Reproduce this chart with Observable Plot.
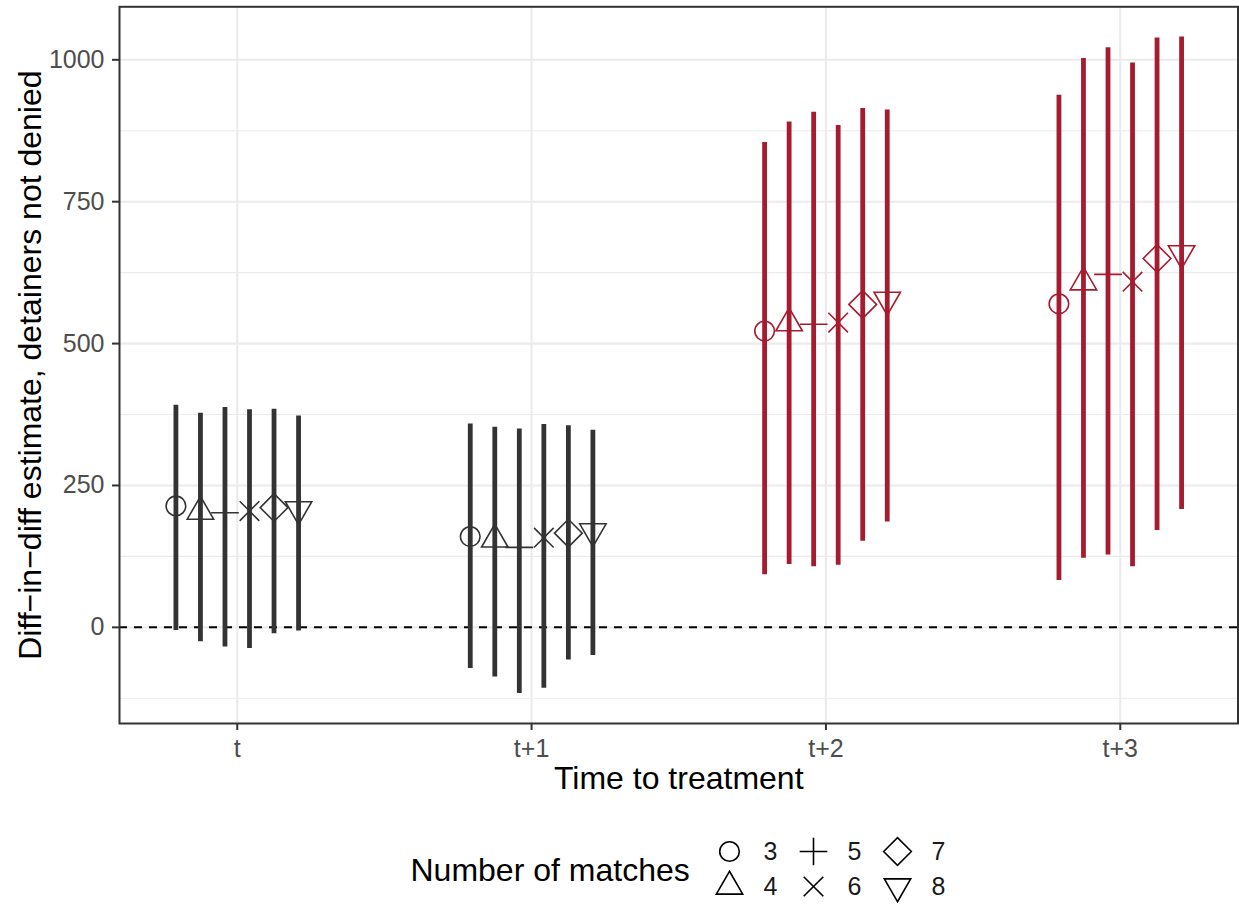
<!DOCTYPE html>
<html>
<head>
<meta charset="utf-8">
<script src="https://cdn.jsdelivr.net/npm/d3@7"></script>
<script src="https://cdn.jsdelivr.net/npm/@observablehq/plot@0.6"></script>
<style>
  html, body { margin: 0; padding: 0; background: #ffffff; }
  #chart { width: 1239px; height: 909px; overflow: hidden; }
  svg { display: block; }
</style>
</head>
<body>
<div id="chart"></div>
<script>
// ---------- data ----------
const timeLabels = ["t", "t+1", "t+2", "t+3"];
const matches = [3, 4, 5, 6, 7, 8];

const est_t  = [214, 204, 202, 205, 211, 208];
const lo_t   = [-1, -21, -30, -33, -7, -2];
const hi_t   = [387, 373, 383, 379, 380, 368];

const est_t1 = [160, 155, 141, 158, 166, 169];
const lo_t1  = [-68, -83, -112, -103, -53, -45];
const hi_t1  = [354, 348, 345, 353, 351, 343];

const est_t2 = [522, 536, 534, 537, 569, 577];
const lo_t2  = [97, 115, 111, 114, 156, 190];
const hi_t2  = [850, 886, 903, 880, 910, 907];

const est_t3 = [570, 608, 622, 609, 650, 659];
const lo_t3  = [87, 126, 132, 111, 175, 212];
const hi_t3  = [933, 998, 1017, 990, 1034, 1036];

const yMajorTicks = [0, 250, 500, 750, 1000];
const yMinorTicks = [-125, 125, 375, 625, 875];

const xTitle = "Time to treatment";
const yTitle = "Diff\u2212in\u2212diff estimate, detainers not denied";
const legendTitle = "Number of matches";

// ---------- build table ----------
const estimates = [est_t, est_t1, est_t2, est_t3];
const lowers = [lo_t, lo_t1, lo_t2, lo_t3];
const uppers = [hi_t, hi_t1, hi_t2, hi_t3];
const dodgeWidth = 0.5;
const rows = [];
timeLabels.forEach((tl, ti) => {
  matches.forEach((m, mi) => {
    const lo = lowers[ti][mi];
    rows.push({
      time: tl,
      pos: ti + 1 + (mi - (matches.length - 1) / 2) * (dodgeWidth / matches.length),
      match: m,
      est: estimates[ti][mi],
      lo,
      hi: uppers[ti][mi],
      sig: lo > 0 ? "sig" : "ns"
    });
  });
});

// ---------- R-like point shapes ----------
const TRC0 = Math.sqrt(4 * Math.PI / (3 * Math.sqrt(3)));
const TRC1 = TRC0 * Math.sqrt(3) / 2;
const TRC2 = TRC0 / 2;
function rShape(kind) {
  return {
    draw(ctx, size) {
      const R = Math.sqrt(size / Math.PI);
      if (kind === 1) {
        ctx.moveTo(R, 0); ctx.arc(0, 0, R, 0, 2 * Math.PI); ctx.closePath();
      } else if (kind === 2) {
        ctx.moveTo(0, -TRC0 * R); ctx.lineTo(TRC1 * R, TRC2 * R); ctx.lineTo(-TRC1 * R, TRC2 * R); ctx.closePath();
      } else if (kind === 3) {
        const xc = Math.SQRT2 * R;
        ctx.moveTo(-xc, 0); ctx.lineTo(xc, 0); ctx.moveTo(0, -xc); ctx.lineTo(0, xc);
      } else if (kind === 4) {
        const xc = R;
        ctx.moveTo(-xc, -xc); ctx.lineTo(xc, xc); ctx.moveTo(-xc, xc); ctx.lineTo(xc, -xc);
      } else if (kind === 5) {
        const xc = Math.SQRT2 * R;
        ctx.moveTo(-xc, 0); ctx.lineTo(0, -xc); ctx.lineTo(xc, 0); ctx.lineTo(0, xc); ctx.closePath();
      } else if (kind === 6) {
        ctx.moveTo(0, TRC0 * R); ctx.lineTo(TRC1 * R, -TRC2 * R); ctx.lineTo(-TRC1 * R, -TRC2 * R); ctx.closePath();
      }
    }
  };
}
const shapeKinds = [1, 2, 3, 4, 5, 6];
const shapes = shapeKinds.map(rShape);

const DARK = "#333333";
const RED = "#A51C30";
const FONT = "'Liberation Sans', Arial, Helvetica, sans-serif";
const PT_R = 9.8;

// ---------- main plot ----------
const W = 1239, H = 820;
const dotMarks = matches.map((m, i) =>
  Plot.dot(rows.filter(d => d.match === m), {
    x: "pos", y: "est", symbol: shapes[i], r: PT_R,
    fill: "none", stroke: "sig", strokeWidth: 1.6
  })
);

const main = Plot.plot({
  width: W,
  height: H,
  marginLeft: 119,
  marginRight: 1.5,
  marginTop: 6.3,
  marginBottom: H - 723,
  style: { fontFamily: FONT, background: "#ffffff", overflow: "visible" },
  x: { type: "linear", domain: [0.6, timeLabels.length + 0.4], axis: null },
  y: { domain: [-169.4, 1093.4], axis: null },
  color: { domain: ["ns", "sig"], range: [DARK, RED] },
  marks: [
    Plot.gridY(yMinorTicks, { stroke: "#EBEBEB", strokeOpacity: 1, strokeWidth: 1.1 }),
    Plot.gridY(yMajorTicks, { stroke: "#EBEBEB", strokeOpacity: 1, strokeWidth: 2.1 }),
    Plot.gridX(timeLabels.map((_, i) => i + 1), { stroke: "#EBEBEB", strokeOpacity: 1, strokeWidth: 2.1 }),
    Plot.ruleY([0], { stroke: "#000000", strokeWidth: 2, strokeDasharray: "8,7" }),
    Plot.ruleX(rows, { x: "pos", y1: "lo", y2: "hi", stroke: "sig", strokeWidth: 1.6, strokeOpacity: 0.85 }),
    Plot.ruleX(rows, { x: "pos", y1: "lo", y2: "hi", stroke: "sig", strokeWidth: 4.8, insetTop: 2.5, insetBottom: 2.5 }),
    ...dotMarks,
    Plot.frame({ stroke: DARK, strokeWidth: 2 }),
    Plot.axisY(yMajorTicks, {
      anchor: "left", tickSize: 7, tickPadding: 8, stroke: DARK, strokeWidth: 2,
      fill: "#4D4D4D", fontSize: 25, label: null, tickFormat: d => String(d)
    }),
    Plot.axisX(timeLabels.map((_, i) => i + 1), {
      anchor: "bottom", tickSize: 7, tickPadding: 9, stroke: DARK, strokeWidth: 2,
      fill: "#4D4D4D", fontSize: 25, label: null, tickFormat: d => timeLabels[d - 1]
    }),
    Plot.text([xTitle], { frameAnchor: "bottom", text: d => d, dy: 65.5, fontSize: 32, fill: "#000000" }),
    Plot.text([yTitle], { frameAnchor: "left", text: d => d, rotate: -90, dx: -89, textAnchor: "middle", lineAnchor: "middle", fontSize: 32, fill: "#000000" })
  ]
});

// ---------- legend ----------
const legendRows = matches.map((m, i) => ({ match: m, col: Math.floor(i / 2), row: i % 2, i }));
const legend = Plot.plot({
  width: W,
  height: 909 - H,
  margin: 0,
  style: { fontFamily: FONT, background: "#ffffff", overflow: "visible" },
  x: { type: "linear", domain: [0, 2], range: [729, 897], axis: null },
  y: { type: "linear", domain: [0, 1], range: [31, 66], axis: null },
  marks: [
    ...legendRows.map(d => Plot.dot([d], {
      x: "col", y: "row", symbol: shapes[d.i], r: PT_R, fill: "none", stroke: "#000000", strokeWidth: 1.6
    })),
    Plot.text(legendRows, { x: "col", y: "row", text: d => String(d.match), dx: 34, textAnchor: "start", fontSize: 25, fill: "#1A1A1A" }),
    Plot.text([legendTitle], { frameAnchor: "left", text: d => d, dx: 410, dy: 5.5, textAnchor: "start", fontSize: 32, fill: "#000000" })
  ]
});

const chart = document.getElementById("chart");
chart.appendChild(main);
chart.appendChild(legend);
</script>
</body>
</html>
